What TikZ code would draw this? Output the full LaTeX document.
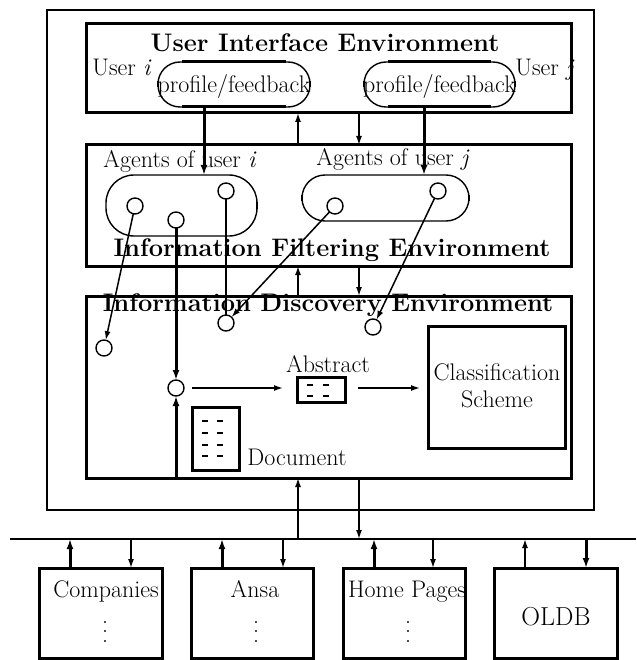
\documentclass[tikz,border=0pt]{standalone}
\usetikzlibrary{arrows.meta}
\begin{document}
\begin{tikzpicture}[x=1pt,y=-1pt,
  every node/.style={inner sep=0pt, outer sep=0pt},
  txt/.style={font=\fontsize{24}{27}\selectfont},
  ttl/.style={font=\fontsize{25.4}{29}\selectfont\bfseries},
  box/.style={draw, line width=3pt},
  pill/.style={draw, line width=1.4pt, rounded corners=#1},
  agent/.style={draw, circle, line width=1.4pt, minimum size=16pt},
  arr/.style={-{Latex[length=9pt,width=6pt]}, line width=1.5pt},
  tarr/.style={-{Latex[length=10pt,width=7pt]}, line width=3pt},
  tline/.style={line width=1.4pt},
  dashseg/.style={line width=2pt},
  tickmark/.style={line width=2.6pt},
  vdotsnode/.style={font=\fontsize{24}{27}\selectfont, rotate=-90}]
\useasboundingbox (0,0) rectangle (636,660);

% outer frame
\node[draw, line width=2.5pt, minimum width=547pt, minimum height=500pt] (outer) at (320.5,260) {};

% ---------- User interface environment ----------
\node[box, minimum width=485pt, minimum height=89pt] (uib) at (328.5,68.5) {};
\node[ttl] (uit) at (325,43) {User Interface Environment};
\node[txt, anchor=base] (ui) at (122,76) {User \textit{i}};
\node[txt, anchor=base] (uj) at (545,76) {User \textit{j}};
\node[pill=22pt, minimum width=152pt, minimum height=45pt] (pfi) at (234,84.5) {};
\node[pill=22pt, minimum width=151pt, minimum height=45pt] (pfj) at (439.5,84.5) {};
\node[txt, anchor=base] (pfit) at (234,93) {profile/feedback};
\node[txt, anchor=base] (pfjt) at (439.5,93) {profile/feedback};
\draw[line width=3pt] ([xshift=24pt]pfi.north west) -- ([xshift=-24pt]pfi.north east);
\draw[line width=3pt] ([xshift=24pt]pfi.south west) -- ([xshift=-24pt]pfi.south east);
\draw[line width=3pt] ([xshift=24pt]pfj.north west) -- ([xshift=-24pt]pfj.north east);
\draw[line width=3pt] ([xshift=24pt]pfj.south west) -- ([xshift=-24pt]pfj.south east);
\foreach \p in {pfi,pfj}{
  \draw[tickmark] ([yshift=3pt]\p.east) -- ([yshift=-3pt]\p.east);
  \draw[tickmark] ([yshift=3pt]\p.west) -- ([yshift=-3pt]\p.west);
}

% ---------- Information filtering environment ----------
\node[box, minimum width=485pt, minimum height=121pt] (ifb) at (328.5,205.5) {};
\node[txt, anchor=base] (agi) at (180,168) {Agents of user \textit{i}};
\node[txt, anchor=base] (agj) at (393,166) {Agents of user \textit{j}};
\node[pill=28pt, minimum width=151pt, minimum height=61pt] (api) at (181.5,205.5) {};
\node[pill=23pt, minimum width=167pt, minimum height=46pt] (apj) at (385.5,198) {};
\draw[tickmark] ([yshift=3pt]api.east) -- ([yshift=-3pt]api.east);
\draw[tickmark] ([yshift=3pt]apj.east) -- ([yshift=-3pt]apj.east);
\draw[tickmark] ([yshift=3pt]apj.west) -- ([yshift=-3pt]apj.west);
\node[agent] (a1) at (135,206) {};
\node[agent] (a2) at (176,220) {};
\node[agent] (a3) at (226,191) {};
\node[agent] (b1) at (335,206) {};
\node[agent] (b2) at (438,191) {};
\node[ttl] (ift) at (332,250) {Information Filtering Environment};

% ---------- Information discovery environment ----------
\node[box, minimum width=485pt, minimum height=182pt] (idb) at (328.5,387) {};
\node[ttl] (idt) at (328,305) {Information Discovery Environment};
\node[agent] (d1) at (104,348) {};
\node[agent] (d2) at (226,323) {};
\node[agent] (d3) at (373,327) {};
\node[agent] (d4) at (176,388) {};
\node[box, minimum width=48pt, minimum height=25pt] (abs) at (321,390) {};
\node[txt, anchor=base] (abst) at (328,372) {Abstract};
\foreach \dy in {-5,6}{
  \draw[dashseg] ([shift={(-14,\dy)}]abs.center) -- ++(6,0);
  \draw[dashseg] ([shift={(2,\dy)}]abs.center) -- ++(6,0);
}
\node[box, minimum width=137pt, minimum height=122pt] (cls) at (496.5,387) {};
\node[txt, align=center] (clst) at (497,386) {Classification\\Scheme};
\node[box, minimum width=47pt, minimum height=63pt] (doc) at (215.5,438.5) {};
\foreach \dy in {-17.5,-5.5,6.5,17.5}{
  \draw[dashseg] ([shift={(-13.5,\dy)}]doc.center) -- ++(6,0);
  \draw[dashseg] ([shift={(1.5,\dy)}]doc.center) -- ++(6,0);
}
\node[txt, anchor=base] (doct) at (297,465) {Document};

% ---------- vertical links between environments ----------
\coordinate (xa) at (204,0);
\coordinate (xb) at (424,0);
\coordinate (xu) at (298,0);
\coordinate (xd) at (359,0);
\draw[tarr] (pfi.south -| xa) -- (api.north -| xa);
\draw[tarr] (pfj.south -| xb) -- (apj.north -| xb);
\draw[arr] (ifb.north -| xu) -- (uib.south -| xu);
\draw[arr] (uib.south -| xd) -- (ifb.north -| xd);
\draw[arr] (idb.north -| xu) -- (ifb.south -| xu);
\draw[arr] (ifb.south -| xd) -- (idb.north -| xd);

% agents to discovery
\draw[arr] (a1) -- (d1);
\draw[tline] (a3) -- (d2);
\draw[arr] (b1) -- (d2);
\draw[arr] (b2) -- (d3);
\draw[tarr] (a2) -- (d4);
\draw[tarr] (idb.south -| d4) -- (d4);
\draw[arr, shorten <=8pt, shorten >=14pt] (d4.east) -- (d4.east -| abs.west);
\draw[arr, shorten <=13pt, shorten >=8pt] (abs.east |- d4) -- (d4 -| cls.west);

% ---------- bus and sources ----------
\coordinate (busL) at (10,539);
\coordinate (busR) at (636,539);
\draw[line width=2.5pt] (busL) -- (busR);
\draw[arr] (busL -| xu) -- (idb.south -| xu);
\draw[arr] (idb.south -| xd) -- (busL -| xd);

\node[box, minimum width=123pt, minimum height=90pt] (comp) at (101,613) {};
\node[box, minimum width=122pt, minimum height=90pt] (ansa) at (252,613) {};
\node[box, minimum width=122pt, minimum height=90pt] (home) at (404,613) {};
\node[box, minimum width=123pt, minimum height=90pt] (oldb) at (555.5,613) {};
\node[txt, anchor=base] (compt) at (106,597) {Companies};
\node[txt, anchor=base] (ansat) at (255,597) {Ansa};
\node[txt, anchor=base] (homet) at (407,597) {Home Pages};
\node[font=\fontsize{26}{30}\selectfont] (oldbt) at (556,617) {OLDB};
\node[vdotsnode] (compd) at (105,632) {.\kern3.5pt.\kern3.5pt.};
\node[vdotsnode] (ansad) at (256,632) {.\kern3.5pt.\kern3.5pt.};
\node[vdotsnode] (homed) at (408,632) {.\kern3.5pt.\kern3.5pt.};

\foreach \n/\x in {1/70,2/222,3/374,4/525,5/131,6/283,7/433,8/586}
  \coordinate (bx\n) at (\x,539);
\draw[tarr] (bx1 |- comp.north) -- (bx1);
\draw[tarr] (bx2 |- ansa.north) -- (bx2);
\draw[tarr] (bx3 |- home.north) -- (bx3);
\draw[arr]  (bx4 |- oldb.north) -- (bx4);
\draw[arr]  (bx5) -- (bx5 |- comp.north);
\draw[arr]  (bx6) -- (bx6 |- ansa.north);
\draw[arr]  (bx7) -- (bx7 |- home.north);
\draw[tarr] (bx8) -- (bx8 |- oldb.north);
\end{tikzpicture}
\end{document}
